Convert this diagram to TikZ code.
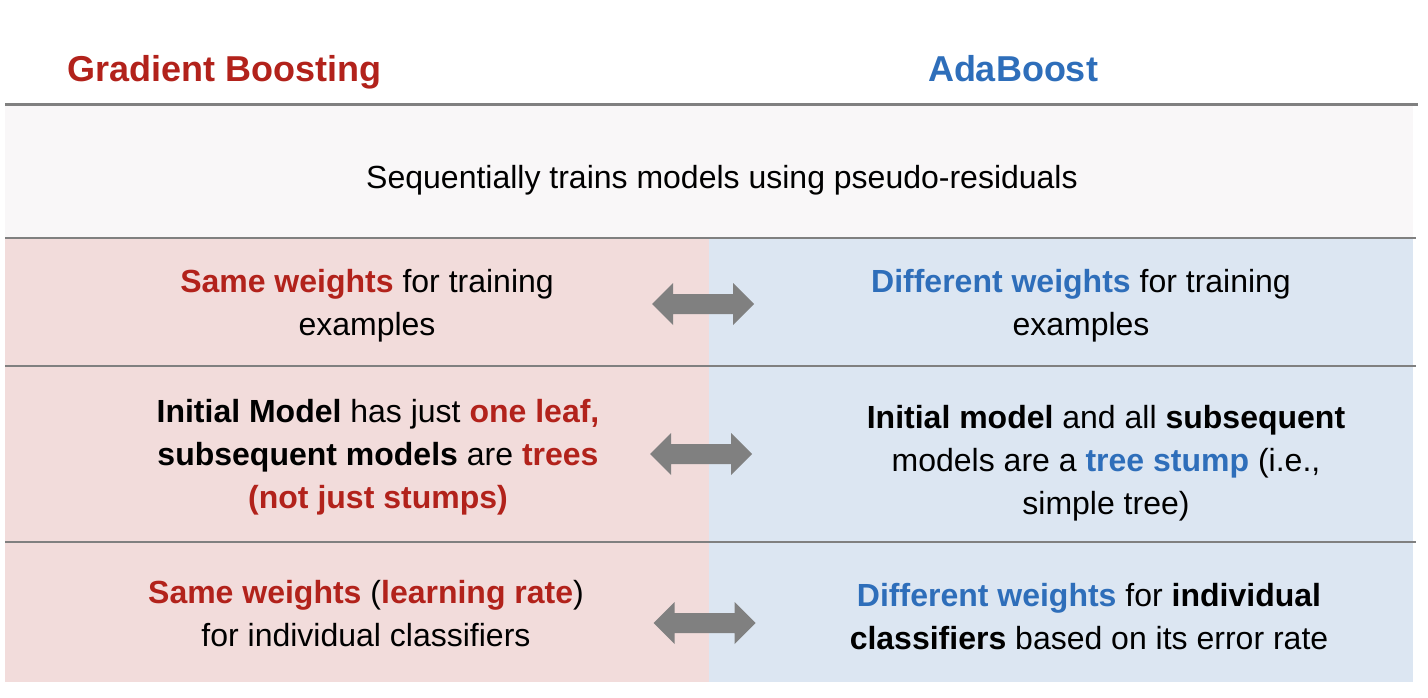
\documentclass[tikz,border=0pt]{standalone}
\usepackage{fontspec}
\setmainfont{Liberation Sans}
\definecolor{gbred}{RGB}{178,34,27}
\definecolor{abblue}{RGB}{46,110,186}
\definecolor{gbbg}{RGB}{242,220,219}
\definecolor{abbg}{RGB}{220,230,242}
\definecolor{topbg}{RGB}{249,247,248}
\definecolor{rulegray}{RGB}{128,128,128}

\newcommand{\gbem}[1]{\textcolor{gbred}{\textbf{#1}}}
\newcommand{\abem}[1]{\textcolor{abblue}{\textbf{#1}}}

\tikzset{
  cell/.style={align=center, inner sep=0pt, font=\fontsize{32}{43}\selectfont},
  heading/.style={inner sep=0pt, font=\fontsize{36}{43}\selectfont\bfseries},
  rowrule/.style={draw=rulegray, line width=2.2pt},
  dblarrow/.pic={
    \fill[rulegray] (-51,0) -- (-30,-21) -- (-30,-10) -- (30,-10) -- (30,-21)
      -- (51,0) -- (30,21) -- (30,10) -- (-30,10) -- (-30,21) -- cycle;
  }
}

\begin{document}
\begin{tikzpicture}[x=1pt,y=-1pt]
  \useasboundingbox (0,0) rectangle (1428,698);

  % backgrounds
  \fill[topbg] (5,106) rectangle (1413,238);
  \fill[gbbg] (5,238) rectangle (709,682);
  \fill[abbg] (709,238) rectangle (1413,682);

  % rules
  \draw[rowrule, line width=3pt] (5,105) -- (1418,105);
  \draw[rowrule] (5,238) -- (1416,238);
  \draw[rowrule] (5,366) -- (1416,366);
  \draw[rowrule, line width=1.6pt] (5,542) -- (1416,542);

  % column headings
  \node[heading, text=gbred] (gbhead) at (224.5,72) {Gradient Boosting};
  \node[heading, text=abblue] (abhead) at (1013,69) {AdaBoost};

  % shared row
  \node[cell] (shared) at (722,180) {Sequentially trains models using pseudo-residuals};

  % row 1
  \node[cell] (gb1) at (367,305.5) {\gbem{Same weights} for training\\examples};
  \node[cell] (ab1) at (1081,305.5) {\abem{Different weights} for training\\examples};
  \pic at (703,304) {dblarrow};

  % row 2
  \node[cell] (gb2) at (378,457) {\textbf{Initial Model} has just \gbem{one leaf,}\\
    \textbf{subsequent models} are \gbem{trees}\\\gbem{(not just stumps)}};
  \node[cell] (ab2) at (1106,463.5) {\textbf{Initial model} and all \textbf{subsequent}\\
    models are a \abem{tree stump} (i.e.,\\simple tree)};
  \pic at (701,454) {dblarrow};

  % row 3
  \node[cell] (gb3) at (366,614) {\gbem{Same weights} (\gbem{learning rate})\\for individual classifiers};
  \node[cell] (ab3) at (1089,616.5) {\abem{Different weights} for \textbf{individual}\\
    \textbf{classifiers} based on its error rate};
  \pic at (704.5,623) {dblarrow};
\end{tikzpicture}
\end{document}
